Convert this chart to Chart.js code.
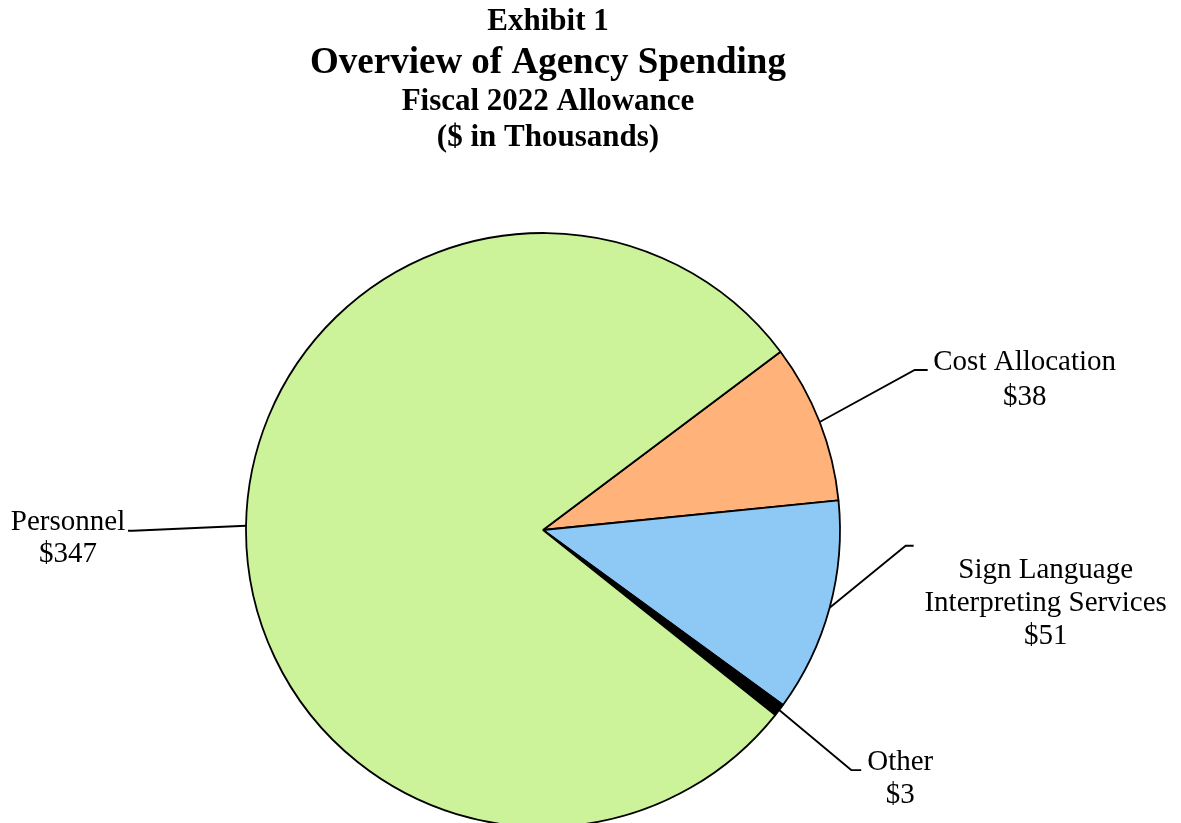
<!DOCTYPE html>
<html>
<head>
<meta charset="utf-8">
<script src="https://cdn.jsdelivr.net/npm/chart.js@4.4.0/dist/chart.umd.min.js"></script>
<style>
  html, body { margin: 0; padding: 0; background: #ffffff; }
  #wrap { width: 1181px; height: 823px; position: relative; }
</style>
</head>
<body>
<div id="wrap"><canvas id="c" width="1181" height="823"></canvas></div>
<script>
// ---- data ----
const categories = ["Cost Allocation", "Sign Language Interpreting Services", "Other", "Personnel"];
const labelLines = [["Cost Allocation"], ["Sign Language", "Interpreting Services"], ["Other"], ["Personnel"]];
const values = [38, 51, 3, 347];
const valueLabels = ["$38", "$51", "$3", "$347"];
const titleLines = ["Exhibit 1", "Overview of Agency Spending", "Fiscal 2022 Allowance", "($ in Thousands)"];

// ---- styles ----
const colors = ["#FFB27A", "#8EC9F5", "#000000", "#CCF29A"];
const titleStyle = [
  { size: 31, y: 22 },
  { size: 37, y: 63 },
  { size: 31, y: 102 },
  { size: 31, y: 138 }
];
// leader layout: elbow offset from arc edge point, stub length, text anchor offset from stub end
const leaderLayout = [
  { elbow: [95, -52], stub: 13, text: [97, -8], align: "center", lh: 35 },
  { elbow: [76, -62], stub: 8, text: [132, 25], align: "center", lh: 33 },
  { elbow: [72, 60], stub: 10, text: [39, -8], align: "center", lh: 33 },
  { elbow: [-113, 5], stub: -5, text: [-60, -8], align: "center", lh: 32 }
];

const titlePlugin = {
  id: "titles",
  afterDraw(chart) {
    const ctx = chart.ctx;
    ctx.save();
    ctx.fillStyle = "#000";
    ctx.textAlign = "center";
    ctx.textBaseline = "middle";
    titleLines.forEach((t, i) => {
      ctx.font = "bold " + titleStyle[i].size + "px 'Liberation Serif', 'Times New Roman', serif";
      ctx.fillText(t, 548, titleStyle[i].y);
    });
    ctx.restore();
  }
};

const leaderPlugin = {
  id: "leaders",
  afterDatasetsDraw(chart) {
    const ctx = chart.ctx;
    const meta = chart.getDatasetMeta(0);
    ctx.save();
    ctx.strokeStyle = "#000";
    ctx.lineWidth = 1.8;
    ctx.fillStyle = "#000";
    ctx.font = "29px 'Liberation Serif', 'Times New Roman', serif";
    ctx.textBaseline = "middle";
    meta.data.forEach((arc, i) => {
      const p = arc.getProps(["x", "y", "startAngle", "endAngle", "outerRadius"], true);
      const mid = (p.startAngle + p.endAngle) / 2;
      const ex = p.x + Math.cos(mid) * p.outerRadius;
      const ey = p.y + Math.sin(mid) * p.outerRadius;
      const L = leaderLayout[i];
      const bx = ex + L.elbow[0], by = ey + L.elbow[1];
      const sx = bx + L.stub;
      ctx.beginPath();
      ctx.moveTo(ex, ey);
      ctx.lineTo(bx, by);
      ctx.lineTo(sx, by);
      ctx.stroke();
      const tx = sx + L.text[0];
      const ty = by + L.text[1];
      ctx.textAlign = L.align;
      const lines = labelLines[i].concat([valueLabels[i]]);
      lines.forEach((ln, k) => {
        ctx.fillText(ln, tx, ty + k * L.lh);
      });
    });
    ctx.restore();
  }
};

new Chart(document.getElementById("c"), {
  type: "pie",
  data: {
    labels: categories,
    datasets: [{
      data: values,
      backgroundColor: colors,
      borderColor: "#000000",
      borderWidth: 1.8,
      clip: false
    }]
  },
  options: {
    responsive: false,
    animation: false,
    rotation: 53.1,
    radius: 297,
    layout: { padding: { left: 0, right: 95, top: 237, bottom: 0 } },
    plugins: {
      legend: { display: false },
      tooltip: { enabled: false },
      title: { display: false }
    }
  },
  plugins: [titlePlugin, leaderPlugin]
});
</script>
</body>
</html>
